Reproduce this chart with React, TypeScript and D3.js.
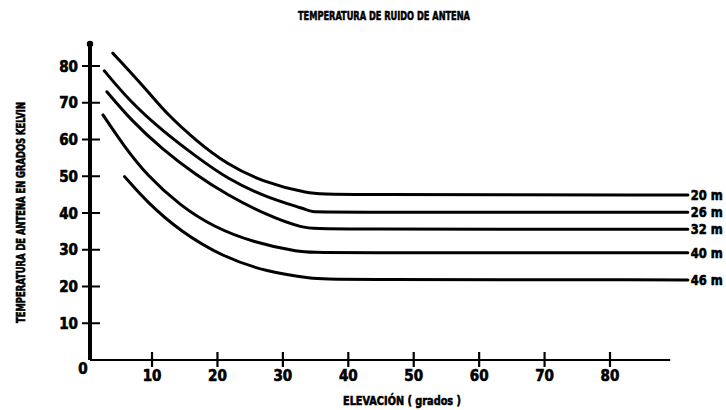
import * as d3 from "d3";

// antenna diameters, one curve each (top to bottom)
const antennas = ["20 m", "26 m", "32 m", "40 m", "46 m"];

// [elevation in degrees, noise temperature in K]
const t20 = [[4.0, 83.5], [9.2, 73.5], [12.2, 67.0], [16.8, 59.6], [21.4, 53.3], [27.0, 48.4], [34.1, 45.2], [37, 45.0], [91.9, 44.9]];
const t26 = [[2.7, 78.7], [6.6, 70.4], [11.7, 62.2], [16.8, 55.3], [21.4, 49.4], [27.5, 44.2], [33.6, 41.0], [34.2, 40.3], [37, 40.2], [91.9, 40.2]];
const t32 = [[3.1, 73.0], [6.6, 65.6], [11.7, 57.1], [16.8, 50.3], [21.4, 45.0], [27.5, 39.4], [33.1, 35.8], [36, 35.6], [91.9, 35.6]];
const t40 = [[2.5, 66.7], [5.6, 58.5], [9.2, 50.3], [14.3, 42.0], [19.4, 36.2], [25.5, 32.0], [32.6, 29.3], [35.5, 29.2], [91.9, 29.2]];
const t46 = [[5.8, 49.9], [9.2, 43.0], [14.3, 35.0], [20.9, 28.0], [27.5, 24.0], [34.6, 22.1], [37.5, 21.9], [91.9, 21.8]];
const series = [t20, t26, t32, t40, t46];

const xTicks = [10, 20, 30, 40, 50, 60, 70, 80];
const yTicks = [10, 20, 30, 40, 50, 60, 70, 80];

const title = "TEMPERATURA DE RUIDO DE ANTENA";
const xTitle = "ELEVACIÓN ( grados )";
const yTitle = "TEMPERATURA DE ANTENA EN GRADOS KELVIN";

const width = 726;
const height = 410;
const font = "'DejaVu Sans Condensed', 'DejaVu Sans', sans-serif";

export default function App() {
  const x = d3.scaleLinear().domain([0, 80]).range([86.6, 610]);
  const y = d3.scaleLinear().domain([0, 80]).range([360, 66]);
  const x0 = 90; // where the hand-drawn vertical axis sits
  const xEnd = 89.2;
  const yTop = 86;

  const line = d3
    .line<number[]>()
    .x((d) => x(d[0]))
    .y((d) => y(d[1]))
    .curve(d3.curveBasis);

  const bold = { fontFamily: font, fontWeight: 700, fill: "#000", stroke: "#000", strokeWidth: 0.6 };

  return (
    <svg
      width={width}
      height={height}
      style={{ position: "absolute", left: 0, top: 0, background: "#fff" }}
    >
      <text x={298} y={20} fontSize={13} textLength={172} lengthAdjust="spacingAndGlyphs" {...bold}>
        {title}
      </text>

      {/* y axis */}
      <line x1={x0} x2={x0} y1={y(0)} y2={y(yTop)} stroke="#000" strokeWidth={4} />
      <circle cx={x0} cy={y(yTop)} r={3.2} fill="#000" />
      {yTicks.map((t) => (
        <g key={t}>
          <line x1={x0 - 8} x2={x0 + 10} y1={y(t)} y2={y(t)} stroke="#000" strokeWidth={2} />
          <text x={78} y={y(t) + 5.5} fontSize={15} textAnchor="end" {...bold}>
            {t}
          </text>
        </g>
      ))}
      <text x={83} y={374} fontSize={15} textAnchor="middle" {...bold}>
        0
      </text>

      {/* x axis */}
      <line x1={x0} x2={x(xEnd)} y1={y(0)} y2={y(0)} stroke="#000" strokeWidth={2} />
      {xTicks.map((t) => (
        <g key={t}>
          <line x1={x(t)} x2={x(t)} y1={y(0) - 8} y2={y(0) + 7} stroke="#000" strokeWidth={2.2} />
          <text x={x(t)} y={381} fontSize={15} textAnchor="middle" {...bold}>
            {t}
          </text>
        </g>
      ))}

      <text x={343} y={405} fontSize={13} textLength={118} lengthAdjust="spacingAndGlyphs" {...bold}>
        {xTitle}
      </text>
      <text
        transform={`translate(25, 323) rotate(-90)`}
        fontSize={13}
        textLength={221}
        lengthAdjust="spacingAndGlyphs"
        {...bold}
      >
        {yTitle}
      </text>

      {series.map((s, i) => {
        const last = s[s.length - 1];
        return (
          <g key={antennas[i]}>
            <path d={line(s) ?? ""} fill="none" stroke="#000" strokeWidth={3} strokeLinecap="round" />
            <text
              x={x(last[0]) + 3}
              y={y(last[1]) + 5}
              fontSize={14}
              textLength={32}
              lengthAdjust="spacingAndGlyphs"
              {...bold}
            >
              {antennas[i]}
            </text>
          </g>
        );
      })}
    </svg>
  );
}
